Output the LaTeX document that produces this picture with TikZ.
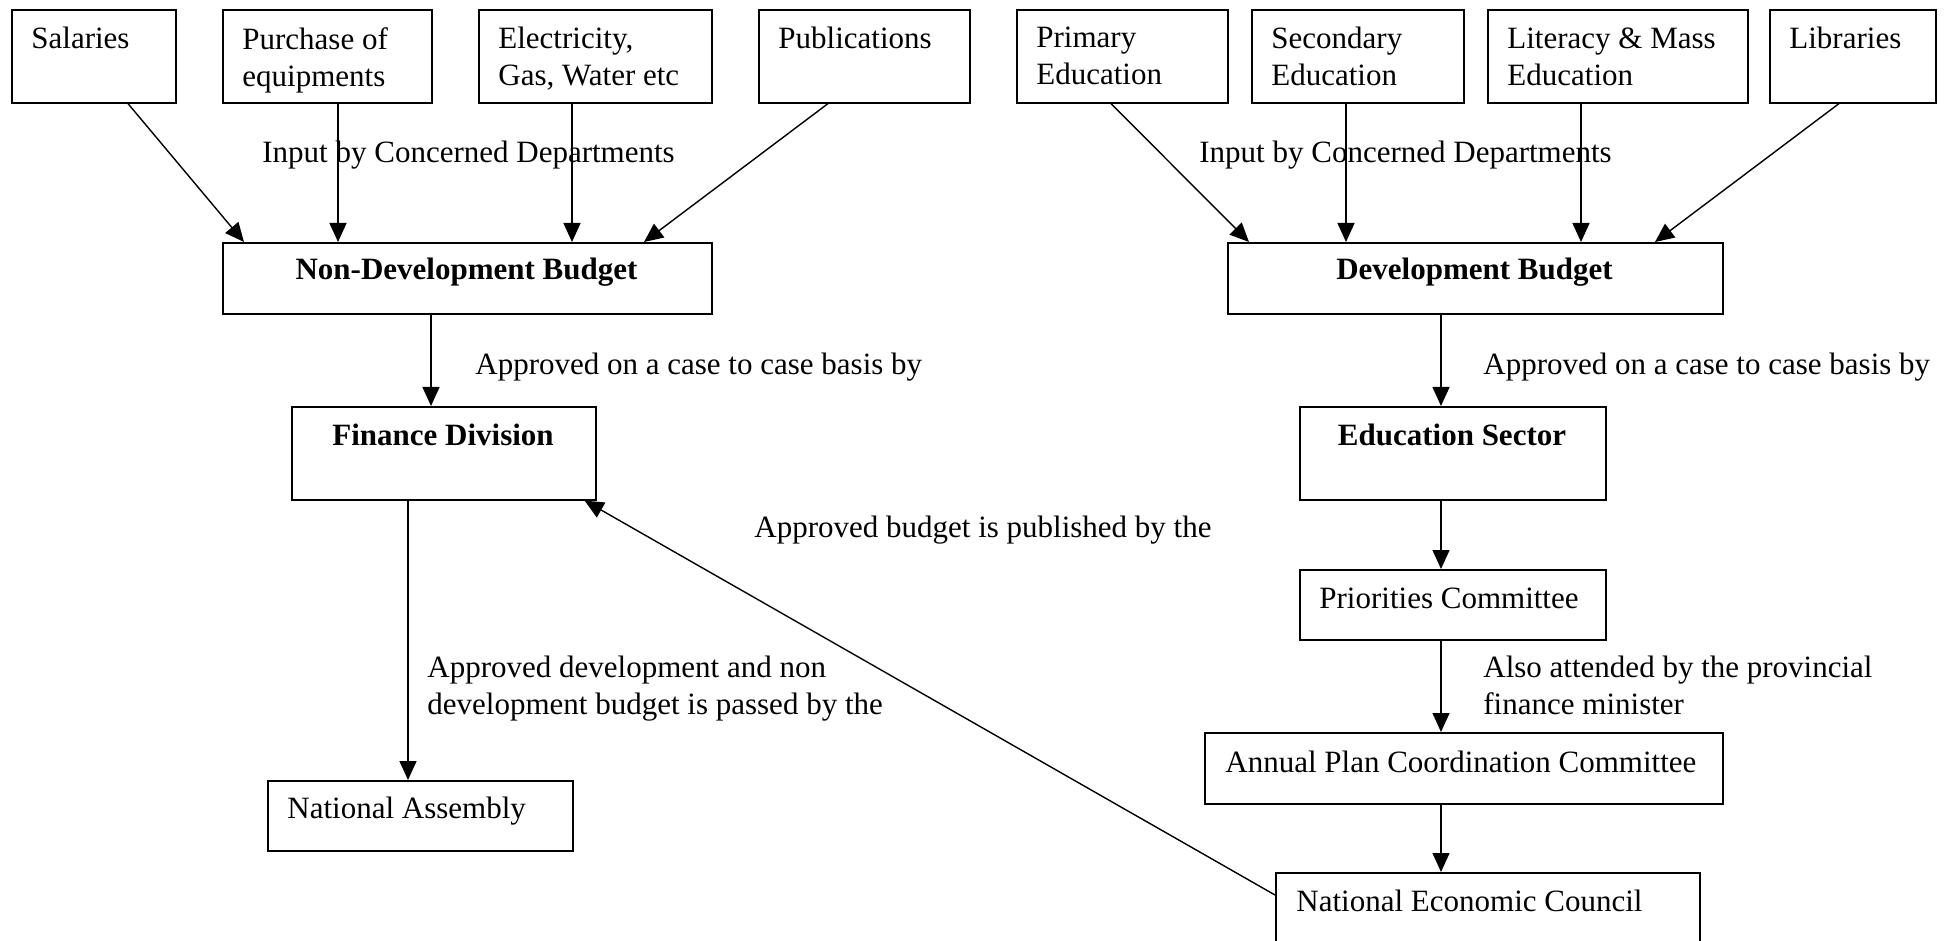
\documentclass[tikz,border=0pt]{standalone}
\usepackage{fontspec}
\setmainfont{Liberation Serif}
\usetikzlibrary{arrows.meta}

\begin{document}
\begin{tikzpicture}[x=0.5pt,y=-0.5pt,
  box/.style={draw,line width=0.8pt,inner sep=0pt,anchor=north west},
  lbl/.style={inner sep=0pt,anchor=north west,align=left,font=\fontsize{15.5}{18.5}\selectfont},
  ttl/.style={inner sep=0pt,anchor=base,font=\fontsize{15.5}{18.5}\selectfont\bfseries},
  arr/.style={-{Triangle[length=9.5pt,width=8.5pt]},line width=0.7pt}]
  \useasboundingbox (0,0) rectangle (1950,941);
  % input boxes
  \foreach \n/\xa/\xb/\t in {sal/11/175/Salaries, pur/222/431/{Purchase of\\equipments},
      ele/478/711/{Electricity,\\Gas, Water etc}, pub/758/969/Publications,
      pri/1016/1227/{Primary\\Education}, sec/1251/1463/{Secondary\\Education},
      lit/1487/1747/{Literacy \& Mass\\Education}, lib/1769/1935/Libraries}{
    \node[box,minimum width={(\xb-\xa)*0.5pt},minimum height=46.5pt] (\n) at (\xa,9) {};
    \node[lbl] (\n-t) at (\xa+20,27) {\t};
  }
  % budgets and bodies
  \node[box,minimum width=244.5pt,minimum height=35.5pt] (ndb) at (222,242) {};
  \node[box,minimum width=247.5pt,minimum height=35.5pt] (db) at (1227,242) {};
  \node[box,minimum width=152pt,minimum height=46.5pt] (fin) at (291,406) {};
  \node[box,minimum width=153pt,minimum height=46.5pt] (edu) at (1299,406) {};
  \node[box,minimum width=152.5pt,minimum height=35pt] (na) at (267,780) {};
  \node[box,minimum width=153pt,minimum height=35pt] (pc) at (1299,569) {};
  \node[box,minimum width=259pt,minimum height=35.5pt] (apcc) at (1204,732) {};
  \node[box,minimum width=212pt,minimum height=39pt] (nec) at (1275,872) {};
  \node[ttl] (ndb-t) at (466.5,280) {Non-Development Budget};
  \node[ttl] (db-t) at (1474.5,280) {Development Budget};
  \node[ttl] (fin-t) at (443,445) {Finance Division};
  \node[ttl] (edu-t) at (1452,445) {Education Sector};
  \node[lbl] (na-t) at (287,797) {National Assembly};
  \node[lbl] (pc-t) at (1319,588) {Priorities Committee};
  \node[lbl] (apcc-t) at (1225,751) {Annual Plan Coordination Committee};
  \node[lbl] (nec-t) at (1296,890) {National Economic Council};
  % labels on the connectors
  \node[lbl] (in1) at (262,141) {Input by Concerned Departments};
  \node[lbl] (in2) at (1199,141) {Input by Concerned Departments};
  \node[lbl] (ok1) at (475,353) {Approved on a case to case basis by};
  \node[lbl] (ok2) at (1483,353) {Approved on a case to case basis by};
  \node[lbl] (pubd) at (754,516) {Approved budget is published by the};
  \node[lbl] (pass) at (427,656) {Approved development and non\\development budget is passed by the};
  \node[lbl] (also) at (1483,656) {Also attended by the provincial\\finance minister};
  % connectors
  \foreach \n/\s/\e/\m in {sal/117/22/ndb, pur/116/116/ndb, ele/94/350/ndb, pub/70/422/ndb,
      pri/95/22/db, sec/95/119/db, lit/94/354/db, lib/70/428/db}
    \draw[arr] ([shift={(\s,0)}]\n.south west) -- ([shift={(\e,0)}]\m.north west);
  \draw[arr] ([shift={(209,0)}]ndb.south west) -- ([shift={(140,0)}]fin.north west);
  \draw[arr] ([shift={(214,0)}]db.south west) -- ([shift={(142,0)}]edu.north west);
  \draw[arr] ([shift={(117,0)}]fin.south west) -- ([shift={(141,0)}]na.north west);
  \draw[arr] ([shift={(142,0)}]edu.south west) -- ([shift={(142,0)}]pc.north west);
  \draw[arr] ([shift={(142,0)}]pc.south west) -- ([shift={(237,0)}]apcc.north west);
  \draw[arr] ([shift={(237,0)}]apcc.south west) -- ([shift={(166,0)}]nec.north west);
  \draw[arr] ([shift={(0,23)}]nec.north west) -- ([shift={(-12,0)}]fin.south east);
\end{tikzpicture}
\end{document}
